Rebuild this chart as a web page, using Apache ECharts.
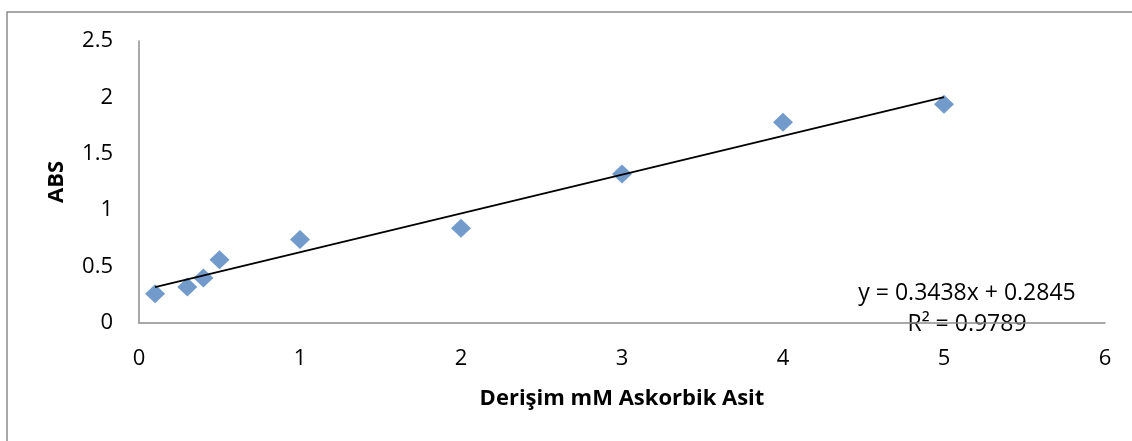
<!DOCTYPE html>
<html>
<head>
<meta charset="utf-8">
<script src="https://cdn.jsdelivr.net/npm/echarts@6/dist/echarts.min.js"></script>
<style>
  html, body { margin: 0; padding: 0; background: #fff; }
  #chart { width: 1132px; height: 441px; }
</style>
</head>
<body>
<div id="chart"></div>
<script>
// Ascorbic acid concentration (mM) and measured absorbance
const concentration = [0.1, 0.3, 0.4, 0.5, 1, 2, 3, 4, 5];
const absorbance = [0.26, 0.32, 0.40, 0.56, 0.74, 0.84, 1.32, 1.78, 1.94];

// Linear fit reported on the chart
const slope = 0.3438;
const intercept = 0.2845;
const rSquared = 0.9789;

const xTicks = [0, 1, 2, 3, 4, 5, 6];
const yTicks = [0, 0.5, 1, 1.5, 2, 2.5];

const points = concentration.map((x, i) => [x, absorbance[i]]);
const xStart = Math.min(...concentration);
const xEnd = Math.max(...concentration);
const fitLine = [[xStart, slope * xStart + intercept], [xEnd, slope * xEnd + intercept]];

const font = '"Open Sans", sans-serif';
const chart = echarts.init(document.getElementById('chart'));

chart.setOption({
  animation: false,
  backgroundColor: '#ffffff',
  grid: { left: 139, right: 27, top: 41, bottom: 118 },
  xAxis: {
    type: 'value',
    min: xTicks[0], max: xTicks[xTicks.length - 1], interval: 1,
    axisLine: { show: true, lineStyle: { color: '#8c8c8c', width: 1.5 } },
    axisTick: { show: false },
    splitLine: { show: false },
    axisLabel: { color: '#000', fontSize: 22, fontFamily: font, margin: 25 },
    name: 'Derişim mM Askorbik Asit',
    nameLocation: 'middle',
    nameGap: 65,
    nameTextStyle: { color: '#000', fontSize: 22, fontWeight: 'bold', fontFamily: font }
  },
  yAxis: {
    type: 'value',
    min: yTicks[0], max: yTicks[yTicks.length - 1], interval: 0.5,
    axisLine: { show: true, lineStyle: { color: '#8c8c8c', width: 1.5 } },
    axisTick: { show: false },
    splitLine: { show: false },
    axisLabel: { color: '#000', fontSize: 22, fontFamily: font, margin: 26 },
    name: 'ABS',
    nameLocation: 'middle',
    nameGap: 71,
    nameTextStyle: { color: '#000', fontSize: 22, fontWeight: 'bold', fontFamily: font }
  },
  series: [
    {
      type: 'line',
      data: fitLine,
      symbol: 'none',
      lineStyle: { color: '#000', width: 1.8 },
      z: 3,
      silent: true
    },
    {
      type: 'scatter',
      data: points,
      symbol: 'diamond',
      symbolSize: [20, 19],
      itemStyle: { color: '#4f81bd' },
      z: 2
    }
  ],
  graphic: [
    {
      type: 'rect',
      shape: { x: 7, y: 12, width: 1140, height: 440 },
      style: { fill: 'none', stroke: '#8c8c8c', lineWidth: 1.5 },
      z: -1
    },
    {
      type: 'text',
      x: 967, y: 293,
      style: {
        text: 'y = ' + slope.toFixed(4) + 'x + ' + intercept.toFixed(4),
        fill: '#000', font: '23px ' + font,
        align: 'center', verticalAlign: 'middle'
      }
    },
    {
      type: 'text',
      x: 967, y: 324,
      style: {
        text: 'R² = ' + rSquared.toFixed(4),
        fill: '#000', font: '23px ' + font,
        align: 'center', verticalAlign: 'middle'
      }
    }
  ]
});
</script>
</body>
</html>
